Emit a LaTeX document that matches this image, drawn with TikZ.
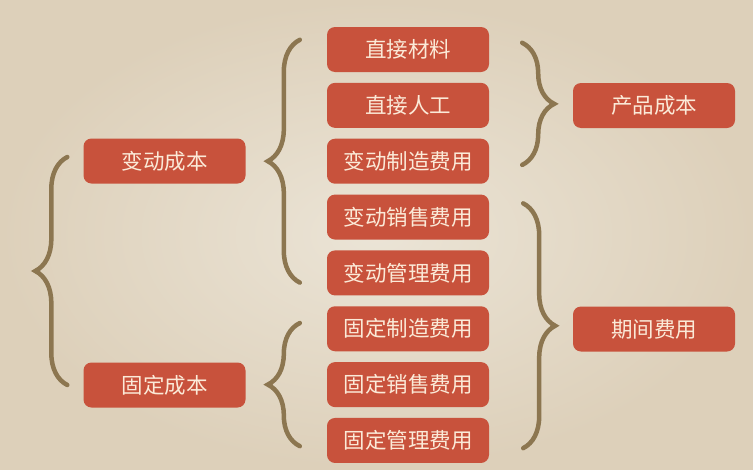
\documentclass[tikz,border=0pt]{standalone}
\usepackage{fontspec}
\setmainfont{Noto Sans CJK SC}
\usetikzlibrary{decorations.pathreplacing}
\definecolor{boxred}{HTML}{C8523C}
\definecolor{boxtext}{HTML}{FBEAD8}
\definecolor{bracecol}{HTML}{8C7650}
\definecolor{paperin}{HTML}{EBE4D6}
\definecolor{paperout}{HTML}{DDD0BA}
\tikzset{
  costbox/.style={fill=boxred, text=boxtext, rounded corners=8pt,
    minimum width=162pt, minimum height=45pt, inner sep=0pt,
    font=\fontsize{21.5}{21.5}\selectfont},
  bracket/.style={draw=bracecol, line width=4.5pt, line cap=round,
    decorate, decoration={brace, amplitude=32pt}}
}
\begin{document}
\begin{tikzpicture}[x=1pt, y=-1pt]
    % Paper
    \shade[inner color=paperin, outer color=paperout] (0,0) rectangle (753,469);
    \useasboundingbox (0,0) rectangle (753,469);

    % Cost items
    \foreach \txt [count=\i] in {直接材料,直接人工,变动制造费用,变动销售费用,变动管理费用,固定制造费用,固定销售费用,固定管理费用}
        \node[costbox] (m\i) at (408,{49.5+55.85*(\i-1)}) {\txt};

    % Totals
    \node[costbox] (varcost) at (164.5,161) {变动成本};
    \node[costbox] (fixcost) at (164.5,385) {固定成本};
    \node[costbox] (prodcost) at (654,105.5) {产品成本};
    \node[costbox] (percost) at (654,329) {期间费用};

    % Braces
    \draw[bracket] ([shift={(-16pt,0pt)}]fixcost.west) -- ([shift={(-16pt,4pt)}]varcost.west);
    \draw[bracket] ([shift={(-27pt,13pt)}]m5.south west) -- ([shift={(-27pt,-13pt)}]m1.north west);
    \draw[bracket] ([shift={(-27pt,17pt)}]m8.south west) -- ([shift={(-27pt,-17pt)}]m6.north west);
    \draw[bracket] ([shift={(33pt,-16pt)}]m1.north east) -- ([shift={(33pt,19pt)}]m3.south east);
    \draw[bracket] ([shift={(34pt,-9pt)}]m4.north east) -- ([shift={(34pt,15pt)}]m8.south east);
\end{tikzpicture}
\end{document}
